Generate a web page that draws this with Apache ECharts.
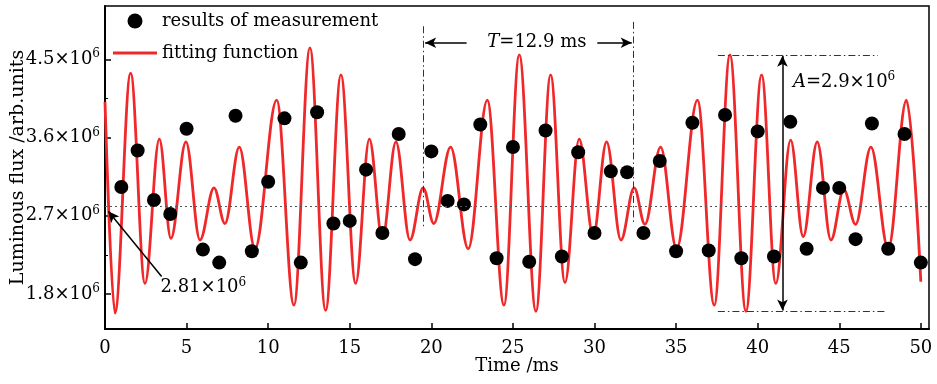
<!DOCTYPE html>
<html><head><meta charset="utf-8">
<script src="https://cdn.jsdelivr.net/npm/echarts@6/dist/echarts.min.js"></script>
<style>html,body{margin:0;padding:0;background:#fff}#c{width:937px;height:384px}</style>
</head><body><div id="c"></div>
<script>
// Fitting function: extrema (time ms, flux ×10^6)
const fitTime = [0, 0.61, 1.57, 2.45, 3.33, 4.04, 4.96, 5.82, 6.68, 7.35, 8.23, 9.19, 10.52, 11.58, 12.56, 13.52, 14.46, 15.36, 16.2, 17.0, 17.83, 18.69, 19.5, 20.15, 21.18, 22.26, 23.43, 24.45, 25.39, 26.41, 27.31, 28.19, 29.06, 29.92, 30.74, 31.62, 32.43, 33.09, 34.05, 35.03, 36.31, 37.34, 38.3, 39.28, 40.24, 41.11, 42.02, 42.79, 43.65, 44.49, 45.28, 46.0, 46.94, 48.0, 49.12, 50.0];
const fitValue = [4.01, 1.58, 4.34, 1.92, 3.58, 2.44, 3.55, 2.42, 3.02, 2.61, 3.49, 2.32, 4.03, 1.67, 4.63, 1.61, 4.32, 1.92, 3.58, 2.44, 3.55, 2.42, 3.02, 2.61, 3.49, 2.32, 4.03, 1.67, 4.55, 1.60, 4.32, 1.93, 3.58, 2.47, 3.55, 2.42, 3.02, 2.60, 3.49, 2.32, 4.03, 1.67, 4.55, 1.60, 4.32, 1.92, 3.57, 2.46, 3.55, 2.42, 3.00, 2.60, 3.49, 2.32, 4.03, 1.94];
// Measurements
const measureTime = [1,2,3,4,5,6,7,8,9,10,11,12,13,14,15,16,17,18,19,20,21,22,23,24,25,26,27,28,29,30,31,32,33,34,35,36,37,38,39,40,41,42,43,44,45,46,47,48,49,50];
const measureValue = [3.03, 3.45, 2.88, 2.72, 3.70, 2.31, 2.16, 3.85, 2.29, 3.09, 3.82, 2.16, 3.89, 2.61, 2.64, 3.23, 2.50, 3.64, 2.20, 3.44, 2.87, 2.83, 3.75, 2.21, 3.49, 2.17, 3.68, 2.23, 3.43, 2.50, 3.21, 3.20, 2.50, 3.33, 2.29, 3.77, 2.30, 3.86, 2.21, 3.67, 2.23, 3.78, 2.32, 3.02, 3.02, 2.43, 3.76, 2.32, 3.64, 2.16];
// Ticks
const xTickValues = [0,5,10,15,20,25,30,35,40,45,50];
const yTickValues = [1.8, 2.7, 3.6, 4.5];
const yMinorTickValues = [2.25, 3.15, 4.05];
// Annotation values
const meanValue = 2.81;
const periodStart = 19.5, periodEnd = 32.4;
const ampTop = 4.55, ampBottom = 1.60;

const F = 'DejaVu Serif';
const RED = '#f0282a';
const rich = {
  n: {fontFamily: F, fontSize: 18, color: '#000', lineHeight: 22},
  i: {fontFamily: F, fontSize: 18, color: '#000', fontStyle: 'italic', lineHeight: 22},
  s: {fontFamily: F, fontSize: 12, color: '#000', verticalAlign: 'top'}
};
const dashDot = {color: '#333', width: 1, type: [7, 3, 1.5, 3]};
const arrowStyle = {color: '#000', width: 1.5, type: 'solid'};

const chart = echarts.init(document.getElementById('c'));
chart.setOption({
  animation: false,
  grid: {left: 105, right: 8, top: 6, bottom: 55, containLabel: false, outerBoundsMode: 'none',
    show: true, borderColor: '#000', borderWidth: 1.5, backgroundColor: 'transparent'},
  legend: {
    data: [
      {name: 'results of measurement', icon: 'circle'},
      {name: 'fitting function', icon: 'path://M0,0L44,0L44,3L0,3Z'}
    ],
    orient: 'vertical', left: 113, top: 11, padding: 0, itemGap: 12,
    itemWidth: 44, itemHeight: 15,
    textStyle: {fontFamily: F, fontSize: 18, color: '#000', lineHeight: 20}
  },
  xAxis: {
    type: 'value', min: 0, max: 50.5,
    axisLine: {onZero: false, lineStyle: {color: '#000', width: 2}},
    axisTick: {inside: true, length: 6, customValues: xTickValues, lineStyle: {color: '#000', width: 1.5}},
    axisLabel: {customValues: xTickValues, fontFamily: F, fontSize: 18, color: '#000', margin: 10},
    splitLine: {show: false},
    name: 'Time /ms', nameLocation: 'middle', nameGap: 28, nameMoveOverlap: false,
    nameTextStyle: {fontFamily: F, fontSize: 18, color: '#000'}
  },
  yAxis: [{
    type: 'value', min: 1.396, max: 5.113,
    axisLine: {onZero: false, lineStyle: {color: '#000', width: 2}},
    axisTick: {inside: true, length: 6, customValues: yTickValues, lineStyle: {color: '#000', width: 1.5}},
    axisLabel: {customValues: yTickValues, margin: 5, rich: rich,
      formatter: v => '{n|' + v.toFixed(1) + '×10}{s|6}'},
    splitLine: {show: false},
    name: 'Luminous flux /arb.units', nameLocation: 'middle', nameGap: 77, nameMoveOverlap: false,
    nameTextStyle: {fontFamily: F, fontSize: 19, color: '#000'}
  }, {
    type: 'value', min: 1.396, max: 5.113, position: 'left',
    axisLine: {show: false},
    axisTick: {inside: true, length: 3, customValues: yMinorTickValues, lineStyle: {color: '#000', width: 1}},
    axisLabel: {show: false}, splitLine: {show: false}
  }],
  series: [{
    name: 'results of measurement', type: 'scatter', z: 4,
    symbol: 'circle', symbolSize: 14,
    itemStyle: {color: '#000', opacity: 1},
    data: measureTime.map((t, i) => [t, measureValue[i]])
  }, {
    name: 'fitting function', type: 'line', z: 3,
    smooth: 0.36, smoothMonotone: 'x', symbol: 'none',
    lineStyle: {color: RED, width: 2.8, opacity: 1},
    itemStyle: {color: RED, opacity: 1},
    data: fitTime.map((t, i) => [t, fitValue[i]]),
    markLine: {
      silent: true, symbol: ['none', 'none'], symbolSize: [8, 11],
      label: {show: false},
      data: [
        {yAxis: meanValue, lineStyle: {color: '#555', width: 1, type: [2, 3]}},
        [{coord: [periodStart, 4.88], lineStyle: dashDot}, {coord: [periodStart, 2.56]}],
        [{coord: [periodEnd, 4.93], lineStyle: dashDot}, {coord: [periodEnd, 2.62]}],
        [{coord: [22.16, 4.69], lineStyle: arrowStyle, symbol: 'none'}, {coord: [periodStart + 0.12, 4.69], symbol: 'arrow'}],
        [{coord: [30.17, 4.69], lineStyle: arrowStyle, symbol: 'none'}, {coord: [periodEnd - 0.12, 4.69], symbol: 'arrow'}],
        [{coord: [37.56, ampTop], lineStyle: dashDot}, {coord: [47.37, ampTop]}],
        [{coord: [37.56, ampBottom], lineStyle: dashDot}, {coord: [47.9, ampBottom]}],
        [{coord: [41.52, ampTop - 0.01], lineStyle: arrowStyle, symbol: 'arrow'}, {coord: [41.52, ampBottom + 0.01], symbol: 'arrow'}],
        [{coord: [3.47, 2.0], lineStyle: arrowStyle, symbol: 'none'}, {coord: [0.2, 2.75], symbol: 'arrow'}]
      ]
    },
    markPoint: {
      silent: true, symbol: 'circle', symbolSize: 0,
      itemStyle: {color: 'transparent'},
      data: [
        {coord: [26.47, 4.69], label: {show: true, position: 'inside', align: 'center', verticalAlign: 'middle', rich: rich, formatter: '{i|T}{n|=12.9 ms}'}},
        {coord: [42.16, 4.24], label: {show: true, position: 'right', distance: 0, align: 'left', verticalAlign: 'middle', rich: rich, formatter: '{i|A}{n|=2.9×10}{s|6}'}},
        {coord: [3.4, 1.87], label: {show: true, position: 'right', distance: 0, align: 'left', verticalAlign: 'middle', rich: rich, formatter: '{n|2.81×10}{s|6}'}}
      ]
    }
  }]
});
</script></body></html>
